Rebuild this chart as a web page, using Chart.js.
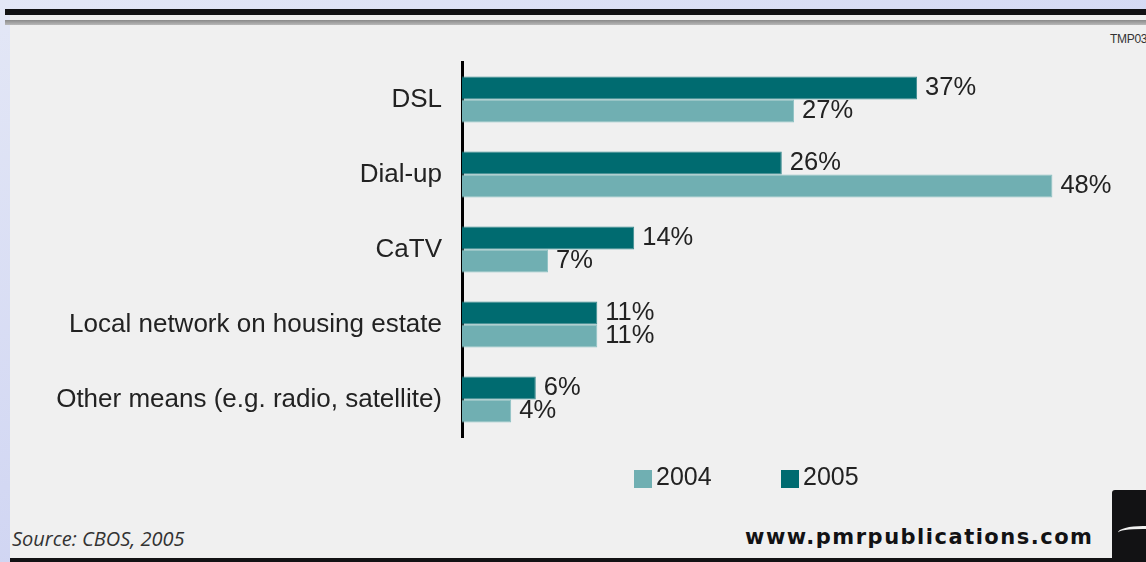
<!DOCTYPE html>
<html>
<head>
<meta charset="utf-8">
<script src="https://cdn.jsdelivr.net/npm/chart.js@4/dist/chart.umd.min.js"></script>
<style>
  body { margin: 0; width: 1146px; height: 562px; overflow: hidden; position: relative;
         background: linear-gradient(160deg, #e3e7f6 0%, #d3d8f3 50%, #c4c8ef 100%); }
  .abs { position: absolute; }
  #panel { left: 10px; top: 9px; width: 1136px; height: 553px; background: #f0f0f0; }
  #topbar { left: 5px; top: 9px; width: 1141px; height: 6px; background: #121214; }
  #band { left: 5px; top: 20px; width: 1141px; height: 5px; background: linear-gradient(#8a8a8a, #b8b8b8); }
  #bottombar { left: 10px; top: 558px; width: 1136px; height: 4px; background: #121214; }
  #tmp { left: 1110px; top: 32px; font: 12px "Liberation Sans Narrow", "Liberation Sans", sans-serif; color: #333; letter-spacing: -0.3px; white-space: nowrap; }
  #source { left: 12px; top: 525px; font: italic 20px "Open Sans", sans-serif; color: #333; }
  #url { left: 745px; top: 525px; font: bold 21px "DejaVu Sans", sans-serif; color: #121214; white-space: nowrap; letter-spacing: 1.5px; }
  #logo { left: 1112px; top: 490px; width: 34px; height: 68px; background: #121214; border-radius: 3px 0 0 0; overflow: hidden; }
  #swoosh { left: 6px; top: 36px; width: 50px; height: 10px; border-radius: 50%; border-top: 3px solid #f0f0f0; }
  canvas { position: absolute; left: 0; top: 0; }
</style>
</head>
<body>
<div id="panel" class="abs"></div>
<div id="topbar" class="abs"></div>
<div id="band" class="abs"></div>
<div id="bottombar" class="abs"></div>
<div id="tmp" class="abs">TMP03</div>
<div id="source" class="abs">Source: CBOS, 2005</div>
<div id="url" class="abs">www.pmrpublications.com</div>
<div id="logo" class="abs"><div id="swoosh" class="abs"></div></div>
<canvas id="chart" width="1146" height="562"></canvas>
<script>
const categories = [
  "DSL",
  "Dial-up",
  "CaTV",
  "Local network on housing estate",
  "Other means (e.g. radio, satellite)",
];
const values2005 = [37, 26, 14, 11, 6];
const values2004 = [27, 48, 7, 11, 4];
const seriesNames = ["2005", "2004"];
const legendOrder = ["2004", "2005"];

// value labels at the end of each bar + legend under the plot
const barLabels = {
  id: "barLabels",
  afterDatasetsDraw(chart) {
    const ctx = chart.ctx;
    ctx.save();
    ctx.font = "25.5px 'Liberation Sans', Arial, sans-serif";
    ctx.fillStyle = "#222";
    ctx.textBaseline = "middle";
    chart.data.datasets.forEach((ds, i) => {
      chart.getDatasetMeta(i).data.forEach((bar, j) => {
        ctx.fillText(ds.data[j] + "%", bar.x + 8, bar.y);
      });
    });

    // legend
    ctx.font = "25px 'Liberation Sans', Arial, sans-serif";
    const xs = [634, 781];
    legendOrder.forEach((name, k) => {
      const ds = chart.data.datasets.find((d) => d.label === name);
      ctx.fillStyle = ds.backgroundColor;
      ctx.fillRect(xs[k], 470, 18, 18);
      ctx.fillStyle = "#222";
      ctx.fillText(name, xs[k] + 22, 478);
    });
    ctx.restore();
  },
};

new Chart(document.getElementById("chart"), {
  type: "bar",
  plugins: [barLabels],
  data: {
    labels: categories,
    datasets: [
      {
        label: seriesNames[0],
        data: values2005,
        backgroundColor: "#006b70",
        borderColor: "#3a8a8e",
        borderWidth: 1,
      },
      {
        label: seriesNames[1],
        data: values2004,
        backgroundColor: "#70afb2",
        borderColor: "#8cc0c2",
        borderWidth: 1,
      },
    ],
  },
  options: {
    indexAxis: "y",
    responsive: false,
    animation: false,
    layout: {
      padding: { top: 62, bottom: 125, left: 0, right: 69 },
    },
    datasets: {
      bar: {
        categoryPercentage: 0.613,
        barPercentage: 1.0,
      },
    },
    scales: {
      x: {
        display: false,
        min: 0,
        max: 50,
      },
      y: {
        grid: { display: false, drawTicks: false },
        border: { color: "#000", width: 3 },
        ticks: {
          padding: 20,
          color: "#222",
          font: { family: "'Liberation Sans', Arial, sans-serif", size: 26 },
        },
        afterFit(scale) {
          scale.width = 462;
        },
      },
    },
    plugins: {
      legend: { display: false },
      tooltip: { enabled: false },
    },
  },
});
</script>
</body>
</html>
